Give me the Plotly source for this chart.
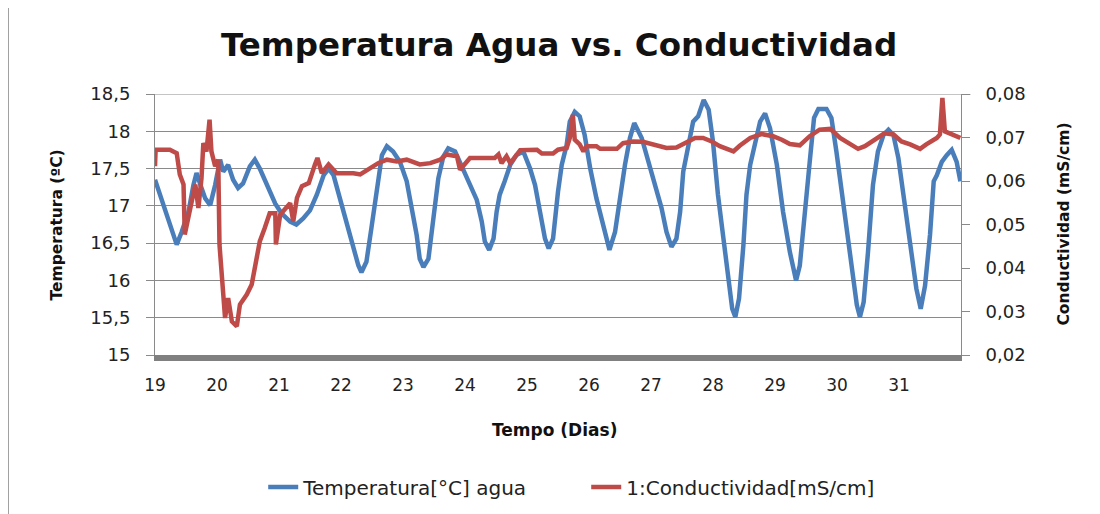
import plotly.graph_objects as go

# Temperatura del agua (ºC)
temp_days = [
    19.00, 19.16, 19.27, 19.35, 19.43, 19.54, 19.62, 19.67, 19.75, 19.81,
    19.89, 19.97, 20.05, 20.10, 20.18, 20.26, 20.34, 20.42, 20.53, 20.61,
    20.69, 20.83, 20.94, 21.04, 21.18, 21.28, 21.39, 21.50, 21.61, 21.72,
    21.80, 21.88, 21.98, 22.09, 22.20, 22.28, 22.33, 22.41, 22.49, 22.58,
    22.66, 22.74, 22.84, 22.95, 23.06, 23.14, 23.22, 23.27, 23.33, 23.41,
    23.49, 23.57, 23.65, 23.73, 23.84, 23.95, 24.05, 24.19, 24.27, 24.32,
    24.39, 24.46, 24.51, 24.56, 24.64, 24.73, 24.83, 24.94, 25.05, 25.13,
    25.21, 25.29, 25.35, 25.42, 25.50, 25.56, 25.64, 25.69, 25.77, 25.85,
    25.93, 26.02, 26.12, 26.23, 26.33, 26.42, 26.50, 26.58, 26.66, 26.73,
    26.85, 26.96, 27.06, 27.17, 27.25, 27.33, 27.41, 27.47, 27.52, 27.60,
    27.68, 27.76, 27.85, 27.93, 28.00, 28.08, 28.17, 28.25, 28.31, 28.36,
    28.42, 28.49, 28.54, 28.60, 28.68, 28.76, 28.84, 28.92, 29.03, 29.13,
    29.24, 29.34, 29.40, 29.48, 29.56, 29.63, 29.70, 29.83, 29.91, 29.99,
    30.07, 30.18, 30.26, 30.32, 30.37, 30.43, 30.50, 30.58, 30.66, 30.75,
    30.83, 30.91, 30.99, 31.09, 31.20, 31.28, 31.35, 31.42, 31.50, 31.56,
    31.61, 31.69, 31.77, 31.85, 31.93, 31.99,
]
temp_vals = [
    17.35, 16.97, 16.70, 16.48, 16.65, 16.92, 17.28, 17.44, 17.24, 17.10,
    17.01, 17.28, 17.62, 17.46, 17.55, 17.35, 17.24, 17.30, 17.53, 17.62,
    17.50, 17.24, 17.03, 16.90, 16.79, 16.75, 16.83, 16.94, 17.15, 17.41,
    17.50, 17.41, 17.10, 16.79, 16.47, 16.20, 16.11, 16.25, 16.70, 17.28,
    17.68, 17.80, 17.73, 17.59, 17.33, 16.97, 16.61, 16.29, 16.18, 16.29,
    16.83, 17.37, 17.66, 17.77, 17.73, 17.53, 17.33, 17.08, 16.79, 16.52,
    16.41, 16.56, 16.92, 17.15, 17.33, 17.55, 17.68, 17.73, 17.50, 17.28,
    16.92, 16.56, 16.43, 16.56, 17.19, 17.55, 17.82, 18.13, 18.26, 18.20,
    17.95, 17.50, 17.10, 16.74, 16.41, 16.65, 17.15, 17.55, 17.91, 18.11,
    17.91, 17.59, 17.28, 16.97, 16.65, 16.45, 16.56, 16.92, 17.46, 17.82,
    18.13, 18.20, 18.42, 18.29, 17.86, 17.15, 16.52, 16.02, 15.62, 15.51,
    15.76, 16.47, 17.15, 17.55, 17.84, 18.13, 18.24, 18.04, 17.55, 16.92,
    16.38, 16.00, 16.20, 16.83, 17.59, 18.18, 18.30, 18.30, 18.18, 17.73,
    17.24, 16.56, 16.02, 15.67, 15.51, 15.71, 16.38, 17.28, 17.73, 17.95,
    18.02, 17.95, 17.64, 17.06, 16.38, 15.89, 15.62, 15.93, 16.61, 17.33,
    17.41, 17.59, 17.68, 17.75, 17.59, 17.33,
]

# Conductividad (mS/cm)
cond_days = [
    19.00, 19.01, 19.24, 19.35, 19.40, 19.46, 19.48, 19.54, 19.59, 19.65,
    19.70, 19.75, 19.78, 19.83, 19.88, 19.91, 19.97, 20.02, 20.04, 20.08,
    20.13, 20.18, 20.24, 20.32, 20.37, 20.48, 20.56, 20.64, 20.69, 20.77,
    20.85, 20.94, 20.95, 21.02, 21.10, 21.18, 21.23, 21.29, 21.37, 21.48,
    21.58, 21.62, 21.69, 21.80, 21.93, 22.20, 22.31, 22.44, 22.60, 22.74,
    22.90, 23.06, 23.27, 23.44, 23.60, 23.70, 23.87, 23.92, 24.00, 24.08,
    24.48, 24.54, 24.59, 24.67, 24.73, 24.81, 24.89, 25.16, 25.24, 25.42,
    25.50, 25.64, 25.69, 25.74, 25.77, 25.85, 25.91, 25.96, 26.12, 26.18,
    26.45, 26.55, 26.71, 26.87, 27.09, 27.25, 27.41, 27.55, 27.71, 27.84,
    27.98, 28.11, 28.22, 28.33, 28.43, 28.60, 28.78, 28.97, 29.11, 29.24,
    29.40, 29.56, 29.72, 29.89, 30.05, 30.21, 30.34, 30.45, 30.61, 30.77,
    30.91, 31.04, 31.18, 31.34, 31.44, 31.61, 31.66, 31.70, 31.74, 31.87,
    31.99,
]
cond_vals = [
    0.0634, 0.0672, 0.0672, 0.0664, 0.0615, 0.0592, 0.0477, 0.0515, 0.0553, 0.0592,
    0.0538, 0.0607, 0.0687, 0.0668, 0.0741, 0.0668, 0.0634, 0.0649, 0.0454, 0.0362,
    0.0285, 0.0331, 0.0277, 0.0266, 0.0316, 0.0339, 0.0362, 0.0423, 0.0461, 0.0492,
    0.0526, 0.0526, 0.0454, 0.0523, 0.0538, 0.0549, 0.0507, 0.0561, 0.0588, 0.0595,
    0.0638, 0.0653, 0.0618, 0.0638, 0.0618, 0.0618, 0.0615, 0.0626, 0.0641, 0.0649,
    0.0645, 0.0649, 0.0638, 0.0641, 0.0649, 0.0661, 0.0657, 0.0626, 0.0641, 0.0653,
    0.0653, 0.0661, 0.0641, 0.0657, 0.0641, 0.0657, 0.0671, 0.0672, 0.0663, 0.0663,
    0.0672, 0.0676, 0.0699, 0.0752, 0.0695, 0.0684, 0.0668, 0.0680, 0.0680, 0.0674,
    0.0674, 0.0687, 0.0691, 0.0690, 0.0682, 0.0676, 0.0677, 0.0687, 0.0699, 0.0699,
    0.0691, 0.0680, 0.0674, 0.0668, 0.0681, 0.0699, 0.0708, 0.0703, 0.0695, 0.0685,
    0.0682, 0.0703, 0.0718, 0.0720, 0.0699, 0.0684, 0.0674, 0.0680, 0.0695, 0.0710,
    0.0707, 0.0691, 0.0684, 0.0674, 0.0684, 0.0699, 0.0707, 0.0791, 0.0714, 0.0707,
    0.0699,
]

x_ticks = list(range(19, 32))
y1_ticks = [15, 15.5, 16, 16.5, 17, 17.5, 18, 18.5]
y1_labels = ["15", "15,5", "16", "16,5", "17", "17,5", "18", "18,5"]
y2_ticks = [0.02, 0.03, 0.04, 0.05, 0.06, 0.07, 0.08]
y2_labels = ["0,02", "0,03", "0,04", "0,05", "0,06", "0,07", "0,08"]

FONT = "DejaVu Sans"
GRID = "#8a8a8a"

fig = go.Figure()
fig.add_trace(go.Scatter(
    x=temp_days, y=temp_vals, mode="lines", name="Temperatura[°C] agua",
    line=dict(color="#4a7ebb", width=4.5),
))
fig.add_trace(go.Scatter(
    x=cond_days, y=cond_vals, mode="lines", name="1:Conductividad[mS/cm]",
    line=dict(color="#be4b48", width=4.5), yaxis="y2",
))

# the page body adds an 8px offset, so margins are shifted to compensate
fig.update_layout(
    width=1100, height=514,
    margin=dict(l=147, r=147, t=86, b=167),
    paper_bgcolor="white", plot_bgcolor="white",
    font=dict(family=FONT, size=18, color="#222"),
    title=dict(
        text="<b>Temperatura Agua vs. Conductividad</b>",
        font=dict(family=FONT, size=32.5, color="#111"),
        x=0.501, xref="container", xanchor="center",
        y=0.928, yref="container", yanchor="middle",
    ),
    xaxis=dict(
        range=[19, 32], tickvals=x_ticks, showgrid=False,
        showline=True, linecolor="#808080", linewidth=6,
        ticks="", ticklabelstandoff=10, zeroline=False,
        tickfont=dict(size=17),
    ),
    yaxis=dict(
        range=[15, 18.5], tickvals=y1_ticks, ticktext=y1_labels,
        showgrid=True, gridcolor=GRID, gridwidth=1,
        showline=True, linecolor=GRID, linewidth=1,
        ticks="outside", ticklen=8, tickcolor=GRID,
        ticklabelstandoff=12, zeroline=False,
    ),
    yaxis2=dict(
        range=[0.02, 0.08], tickvals=y2_ticks, ticktext=y2_labels,
        overlaying="y", side="right", showgrid=False,
        showline=True, linecolor=GRID, linewidth=1,
        ticks="outside", ticklen=8, tickcolor=GRID,
        ticklabelstandoff=12, zeroline=False,
    ),
    legend=dict(
        orientation="h", x=0.535, xanchor="center", y=-0.506, yanchor="middle",
        font=dict(family=FONT, size=20, color="#222"), entrywidth=278,
    ),
    annotations=[
        dict(text="<b>Temperatura (ºC)</b>", textangle=-90, xref="paper", yref="paper",
             x=-0.1216, y=0.5, xanchor="center", yanchor="middle", showarrow=False,
             font=dict(size=15.5, color="#111")),
        dict(text="<b>Conductividad (mS/cm)</b>", textangle=-90, xref="paper", yref="paper",
             x=1.1266, y=0.5, xanchor="center", yanchor="middle", showarrow=False,
             font=dict(size=15.5, color="#111")),
        dict(text="<b>Tempo (Dias)</b>", xref="paper", yref="paper",
             x=0.496, y=-0.287, xanchor="center", yanchor="middle", showarrow=False,
             font=dict(size=17, color="#111")),
    ],
    shapes=[
        dict(type="line", xref="paper", yref="paper", x0=-0.1824, x1=-0.1824,
             y0=-0.64, y1=1.36, line=dict(color="#a0a0a0", width=2)),
        dict(type="line", xref="paper", yref="y", x0=0, x1=1.012, y0=18.5, y1=18.5,
             layer="below", line=dict(color="#c4c4c4", width=2)),
    ],
)

fig.write_html("out.html")
